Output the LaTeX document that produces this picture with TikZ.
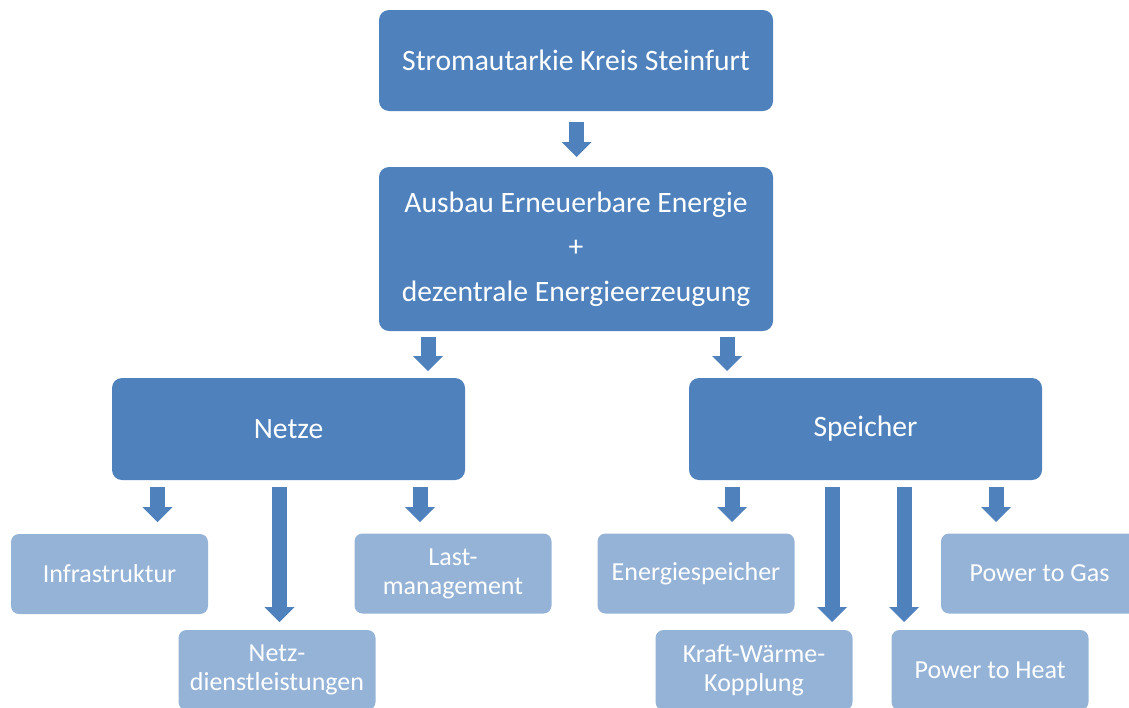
\documentclass[tikz,border=0pt]{standalone}
\usepackage{fontspec}
\setmainfont{Carlito}
\usetikzlibrary{arrows.meta}
\definecolor{darkblue}{HTML}{4F81BD}
\definecolor{lightblue}{HTML}{95B3D7}
\tikzset{
  mainbox/.style={rectangle, rounded corners=10pt, fill=darkblue, text=white, inner sep=0pt, align=center, font=\fontsize{29.6}{44.5}\selectfont},
  subbox/.style={rectangle, rounded corners=8pt, fill=lightblue, text=white, inner sep=0pt, align=center, minimum width=197pt, minimum height=80pt, font=\fontsize{26}{29}\selectfont},
  blockarrow/.style={draw=darkblue, line width=15pt, -{Triangle[width=30pt, length=15pt, line width=0pt]}}
}
\begin{document}
\begin{tikzpicture}[x=1pt, y=-1pt]
\useasboundingbox (0,0) rectangle (1129,707);
\clip (0,0) rectangle (1129,707);
% main boxes
\node[mainbox, minimum width=394pt, minimum height=101pt] (top) at (576,60.5) {Stromautarkie Kreis Steinfurt};
\node[mainbox, minimum width=394pt, minimum height=164pt] (mid) at (576,249) {Ausbau Erneuerbare Energie\\+\\dezentrale Energieerzeugung};
\node[mainbox, minimum width=353pt, minimum height=102pt] (netze) at (288.5,429) {Netze};
\node[mainbox, minimum width=353pt, minimum height=102pt] (speicher) at (865.5,429) {Speicher};
% sub boxes
\node[subbox] (infra) at (109.5,574) {Infrastruktur};
\node[subbox] (netzdl) at (277,670) {Netz-\\dienstleistungen};
\node[subbox] (last) at (453,573.5) {Last-\\management};
\node[subbox] (energ) at (696,573.5) {Energiespeicher};
\node[subbox] (kwk) at (754,670) {Kraft-W\"arme-\\Kopplung};
\node[subbox] (pth) at (990,670) {Power to Heat};
\node[subbox] (ptg) at (1039.5,573.5) {Power to Gas};
% arrow coordinates
\coordinate (a1s) at (576.5,122); \coordinate (a1e) at (576.5,157);
\coordinate (a2s) at (428,337); \coordinate (a2e) at (428,371);
\coordinate (a3s) at (727,337); \coordinate (a3e) at (727,371);
\coordinate (a4s) at (157.5,487); \coordinate (a4e) at (157.5,522);
\coordinate (a5s) at (279.5,487); \coordinate (a5e) at (279.5,622);
\coordinate (a6s) at (420,487); \coordinate (a6e) at (420,522);
\coordinate (a7s) at (732,487); \coordinate (a7e) at (732,522);
\coordinate (a8s) at (832,487); \coordinate (a8e) at (832,622);
\coordinate (a9s) at (904,487); \coordinate (a9e) at (904,622);
\coordinate (a10s) at (996,487); \coordinate (a10e) at (996,522);
\draw[blockarrow] (a1s) -- (a1e);
\draw[blockarrow] (a2s) -- (a2e);
\draw[blockarrow] (a3s) -- (a3e);
\draw[blockarrow] (a4s) -- (a4e);
\draw[blockarrow] (a5s) -- (a5e);
\draw[blockarrow] (a6s) -- (a6e);
\draw[blockarrow] (a7s) -- (a7e);
\draw[blockarrow] (a8s) -- (a8e);
\draw[blockarrow] (a9s) -- (a9e);
\draw[blockarrow] (a10s) -- (a10e);
\end{tikzpicture}
\end{document}
